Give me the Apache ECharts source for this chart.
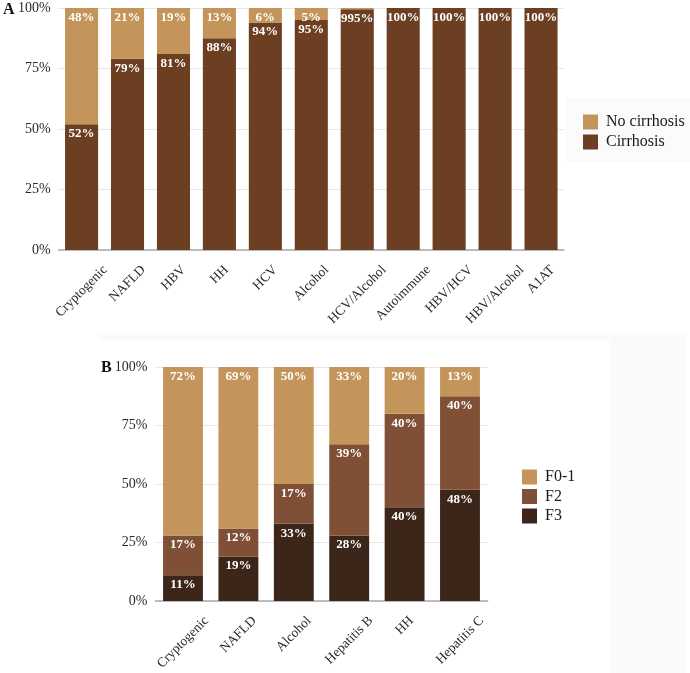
<!DOCTYPE html>
<html>
<head>
<meta charset="utf-8">
<script src="https://cdn.jsdelivr.net/npm/echarts@6/dist/echarts.min.js"></script>
<style>html,body{margin:0;padding:0;background:#fff}#c{width:690px;height:673px}</style>
</head>
<body>
<div id="c"></div>
<script>
// ---- Data: panel A ----
const catsA = ['Cryptogenic','NAFLD','HBV','HH','HCV','Alcohol','HCV/Alcohol','Autoimmune','HBV/HCV','HBV/Alcohol','A1AT'];
const cirrhosis = [52, 79, 81, 87.5, 94, 95, 99.5, 100, 100, 100, 100];
const noCirrhosis = [48, 21, 19, 12.5, 6, 5, 0.5, 0, 0, 0, 0];
const cirrhosisLabels = ['52%','79%','81%','88%','94%','95%','995%','100%','100%','100%','100%'];
const noCirrhosisLabels = ['48%','21%','19%','13%','6%','5%','','','','',''];
// ---- Data: panel B ----
const catsB = ['Cryptogenic','NAFLD','Alcohol','Hepatitis B','HH','Hepatitis C'];
const f3 = [11, 19, 33, 28, 40, 47.5];
const f2 = [17, 12, 17, 39, 40, 40];
const f01 = [72, 69, 50, 33, 20, 12.5];
const f3Labels = ['11%','19%','33%','28%','40%','48%'];
const f2Labels = ['17%','12%','17%','39%','40%','40%'];
const f01Labels = ['72%','69%','50%','33%','20%','13%'];
const yTicks = [0, 25, 50, 75, 100];

const SERIF = '"Liberation Serif","Times New Roman",serif';
const C_LIGHT = '#C4955A', C_CIRR = '#6D3F22', C_F2 = '#7F4F36', C_F3 = '#3B2619';

// x label layout: centre each rotated label on its tick, tops aligned
const ctx = document.createElement('canvas').getContext('2d');
const XFS = 13.5;
ctx.font = XFS + 'px ' + SERIF;
const XMARGIN = 8;
function xRich(cats) {
  const rich = {};
  cats.forEach((c, i) => {
    const w = ctx.measureText(c).width;
    const d = 13 + 0.354 * (w + XFS) - XMARGIN;
    const p = Math.max(0, 1.414 * d);
    rich['c' + i] = {fontSize: XFS, fontFamily: SERIF, color: '#2a2a2a', padding: [p, p, 0, 0]};
  });
  return rich;
}
function xAxis(cats, gi) {
  return {
    type: 'category', gridIndex: gi, data: cats,
    axisTick: {show: false},
    axisLine: {lineStyle: {color: '#ababab', width: 1.5}},
    axisLabel: {
      interval: 0, rotate: 45, margin: XMARGIN, align: 'center', verticalAlign: 'middle',
      formatter: (v, i) => '{c' + i + '|' + v + '}',
      rich: xRich(cats)
    }
  };
}
function yAxis(gi) {
  return {
    type: 'value', gridIndex: gi, min: yTicks[0], max: yTicks[yTicks.length - 1], interval: 25,
    axisLine: {show: false}, axisTick: {show: false},
    splitLine: {lineStyle: {color: '#e6e6e6', width: 1}},
    axisLabel: {margin: 8, fontSize: 14, fontFamily: SERIF, color: '#2a2a2a', formatter: '{value}%'}
  };
}
const lbl = (arr) => ({
  show: true, position: 'insideTop', distance: 3, color: '#fff', fontWeight: 'bold',
  fontSize: 13, fontFamily: SERIF, formatter: p => arr[p.dataIndex]
});
const legendText = {
  fontSize: 16, fontFamily: SERIF, color: '#1a1a1a',
  rich: {t: {fontSize: 16, fontFamily: SERIF, color: '#1a1a1a', lineHeight: 15, padding: [0, 0, 0, 3]}}
};

const chart = echarts.init(document.getElementById('c'), null, {renderer: 'canvas'});
chart.setOption({
  animation: false,
  backgroundColor: '#fff',
  graphic: [
    {type: 'rect', z: -10, silent: true, shape: {x: 98, y: 333, width: 588, height: 340}, style: {fill: '#fafafa'}},
    {type: 'rect', z: -9, silent: true, shape: {x: 98, y: 340, width: 512, height: 333}, style: {fill: '#ffffff'}},
    {type: 'rect', z: -9, silent: true, shape: {x: 566, y: 98, width: 124, height: 64}, style: {fill: '#fbfbfb'}},
    {type: 'text', left: 3, top: 2, style: {text: 'A', font: 'bold 16px ' + SERIF, fill: '#111'}},
    {type: 'text', left: 101, top: 360, style: {text: 'B', font: 'bold 16px ' + SERIF, fill: '#111'}}
  ],
  grid: [
    {left: 58.6, top: 8, width: 505.4, height: 242, containLabel: false},
    {left: 155.3, top: 367, width: 332.4, height: 240, containLabel: false}
  ],
  legend: [
    {orient: 'vertical', left: 578, top: 109, itemWidth: 15, itemHeight: 15, itemGap: 4, icon: 'rect',
     selectedMode: false, data: ['No cirrhosis', 'Cirrhosis'], formatter: '{t|{name}}', textStyle: legendText},
    {orient: 'vertical', left: 517, top: 464, itemWidth: 15, itemHeight: 15, itemGap: 3.5, icon: 'rect',
     selectedMode: false, data: ['F0-1', 'F2', 'F3'], formatter: '{t|{name}}', textStyle: legendText}
  ],
  xAxis: [xAxis(catsA, 0), xAxis(catsB, 1)],
  yAxis: [yAxis(0), yAxis(1)],
  series: [
    {name: 'Cirrhosis', type: 'bar', stack: 'a', xAxisIndex: 0, yAxisIndex: 0, barWidth: '72%',
     itemStyle: {color: C_CIRR}, data: cirrhosis, label: lbl(cirrhosisLabels)},
    {name: 'No cirrhosis', type: 'bar', stack: 'a', xAxisIndex: 0, yAxisIndex: 0, barWidth: '72%',
     itemStyle: {color: C_LIGHT}, data: noCirrhosis, label: lbl(noCirrhosisLabels)},
    {name: 'F3', type: 'bar', stack: 'b', xAxisIndex: 1, yAxisIndex: 1, barWidth: '72%',
     itemStyle: {color: C_F3}, data: f3, label: lbl(f3Labels)},
    {name: 'F2', type: 'bar', stack: 'b', xAxisIndex: 1, yAxisIndex: 1, barWidth: '72%',
     itemStyle: {color: C_F2}, data: f2, label: lbl(f2Labels)},
    {name: 'F0-1', type: 'bar', stack: 'b', xAxisIndex: 1, yAxisIndex: 1, barWidth: '72%',
     itemStyle: {color: C_LIGHT}, data: f01, label: lbl(f01Labels)}
  ]
});
</script>
</body>
</html>
